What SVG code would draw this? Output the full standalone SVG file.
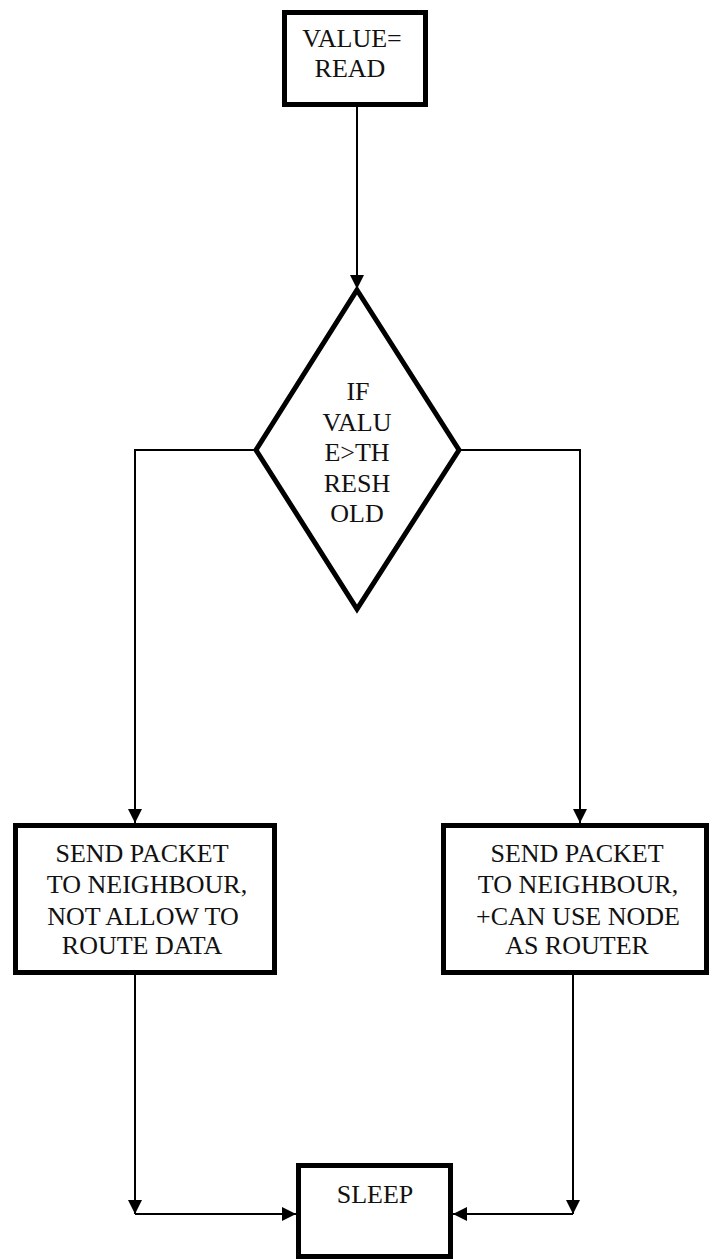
<svg xmlns="http://www.w3.org/2000/svg" width="715" height="1259" viewBox="0 0 715 1259">
  <style>
    .box { fill: #ffffff; stroke: #000000; stroke-width: 5; }
    .wire { fill: none; stroke: #000000; stroke-width: 2; }
    .label { font-family: "Liberation Serif", "Times New Roman", serif; font-size: 26px; fill: #111111; text-anchor: middle; }
  </style>
  <defs>
    <marker id="arrow" markerUnits="userSpaceOnUse" markerWidth="15" markerHeight="16" refX="14" refY="8" orient="auto">
      <path d="M0,1 L14,8 L0,15 Z" fill="#000000"/>
    </marker>
  </defs>

  <g id="connectors">
    <path class="wire" d="M357,107 L357,289" marker-end="url(#arrow)"/>
    <path class="wire" d="M255,450 L135,450 L135,823" marker-end="url(#arrow)"/>
    <path class="wire" d="M460,450 L580,450 L580,823" marker-end="url(#arrow)"/>
    <path class="wire" d="M135,975 L135,1214" marker-end="url(#arrow)"/>
    <path class="wire" d="M135,1214 L296,1214" marker-end="url(#arrow)"/>
    <path class="wire" d="M573,975 L573,1214" marker-end="url(#arrow)"/>
    <path class="wire" d="M573,1214 L453,1214" marker-end="url(#arrow)"/>
  </g>

  <g id="read-value">
    <rect class="box" x="284.5" y="12.5" width="141" height="92"/>
    <text class="label" x="352" y="47">VALUE=</text>
    <text class="label" x="350" y="77">READ</text>
  </g>

  <g id="threshold-check">
    <polygon class="box" points="357,290 459,450 357,609 256,450"/>
    <text class="label" x="358" y="400">IF</text>
    <text class="label" x="357" y="431">VALU</text>
    <text class="label" x="357" y="461">E&gt;TH</text>
    <text class="label" x="357" y="492">RESH</text>
    <text class="label" x="357" y="522">OLD</text>
  </g>

  <g id="send-no-route">
    <rect class="box" x="15.5" y="825.5" width="259" height="147"/>
    <text class="label" x="142" y="862">SEND PACKET</text>
    <text class="label" x="147" y="893">TO NEIGHBOUR,</text>
    <text class="label" x="143" y="925">NOT ALLOW TO</text>
    <text class="label" x="142" y="954">ROUTE DATA</text>
  </g>

  <g id="send-as-router">
    <rect class="box" x="443.5" y="825.5" width="263" height="147"/>
    <text class="label" x="577" y="862">SEND PACKET</text>
    <text class="label" x="578" y="893">TO NEIGHBOUR,</text>
    <text class="label" x="578" y="925">+CAN USE NODE</text>
    <text class="label" x="577" y="954">AS ROUTER</text>
  </g>

  <g id="sleep">
    <rect class="box" x="298.5" y="1165.5" width="152" height="91"/>
    <text class="label" x="375" y="1203">SLEEP</text>
  </g>
</svg>
